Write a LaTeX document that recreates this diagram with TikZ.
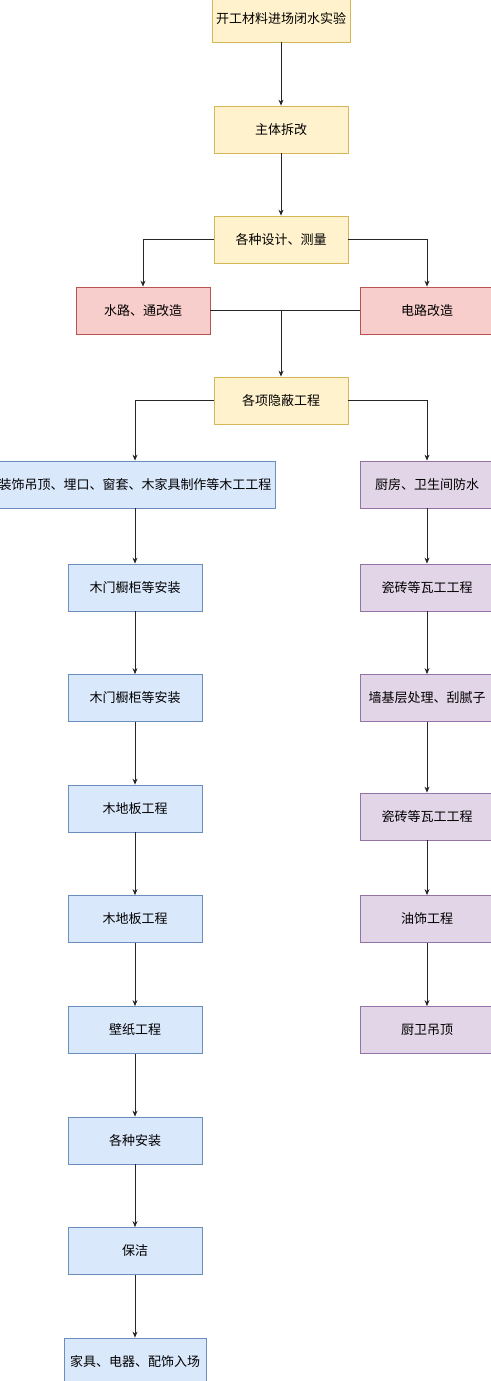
\documentclass[tikz,border=0pt]{standalone}
\usepackage{fontspec}
\setmainfont{Noto Sans CJK SC}
\usetikzlibrary{arrows.meta}
\definecolor{yelfill}{HTML}{FFF2CC}
\definecolor{yelline}{HTML}{D6B656}
\definecolor{redfill}{HTML}{F8CECC}
\definecolor{redline}{HTML}{B85450}
\definecolor{bluefill}{HTML}{DAE8FC}
\definecolor{blueline}{HTML}{6C8EBF}
\definecolor{purfill}{HTML}{E1D5E7}
\definecolor{purline}{HTML}{9673A6}

\begin{document}
\begin{tikzpicture}[x=1pt,y=-1pt,
  box/.style={line width=0.8pt, minimum width=134pt, minimum height=47pt, inner sep=0pt, font=\fontsize{13}{15}\selectfont},
  yelbox/.style={box, fill=yelfill, draw=yelline},
  redbox/.style={box, fill=redfill, draw=redline},
  bluebox/.style={box, fill=bluefill, draw=blueline},
  purbox/.style={box, fill=purfill, draw=purline},
  flow/.style={line width=0.8pt, draw=black!85, -{Stealth[length=6pt,width=5pt]}},
  link/.style={line width=0.8pt, draw=black!85}]
\useasboundingbox (0,0) rectangle (490,1381);

% Main trunk
\node[yelbox, minimum width=138pt] (start) at (281,18.5) {开工材料进场闭水实验};
\node[yelbox] (demo) at (281,129.5) {主体拆改};
\node[yelbox] (design) at (281,239.5) {各种设计、测量};
\node[redbox] (water) at (143,310.5) {水路、通改造};
\node[redbox] (elec) at (427,310.5) {电路改造};
\node[yelbox] (hidden) at (281,400.5) {各项隐蔽工程};

% Left column: carpentry and finishing
\node[bluebox, minimum width=280pt] (wood) at (135,484.5) {装饰吊顶、埋口、窗套、木家具制作等木工工程};
\node[bluebox] (door1) at (135,587.5) {木门橱柜等安装};
\node[bluebox] (door2) at (135,698) {木门橱柜等安装};
\node[bluebox] (floor1) at (135,808.5) {木地板工程};
\node[bluebox] (floor2) at (135,919) {木地板工程};
\node[bluebox] (paper) at (135,1030) {壁纸工程};
\node[bluebox] (install) at (135,1140.5) {各种安装};
\node[bluebox] (clean) at (135,1251) {保洁};
\node[bluebox, minimum width=142pt] (furn) at (135,1361.5) {家具、电器、配饰入场};

% Right column: wet works
\node[purbox] (kitchen) at (427,484.5) {厨房、卫生间防水};
\node[purbox] (tile1) at (427,587.5) {瓷砖等瓦工工程};
\node[purbox] (wall) at (427,698) {墙基层处理、刮腻子};
\node[purbox] (tile2) at (427,816.5) {瓷砖等瓦工工程};
\node[purbox] (paint) at (427,919) {油饰工程};
\node[purbox] (ceil) at (427,1030) {厨卫吊顶};

% Connectors
\draw[flow] (start) -- (demo);
\draw[flow] (demo) -- (design);
\draw[flow] (design.west) -| (water.north);
\draw[flow] (design.east) -| (elec.north);
\coordinate (join) at (hidden.north |- water.east);
\draw[link] (water.east) -- (elec.west);
\draw[flow] (join) -- (hidden.north);
\draw[flow] (hidden.west) -| (wood.north);
\draw[flow] (hidden.east) -| (kitchen.north);

\foreach \a/\b in {wood/door1, door1/door2, door2/floor1, floor1/floor2,
  floor2/paper, paper/install, install/clean, clean/furn,
  kitchen/tile1, tile1/wall, wall/tile2, tile2/paint, paint/ceil}
  \draw[flow] (\a) -- (\b);
\end{tikzpicture}
\end{document}
